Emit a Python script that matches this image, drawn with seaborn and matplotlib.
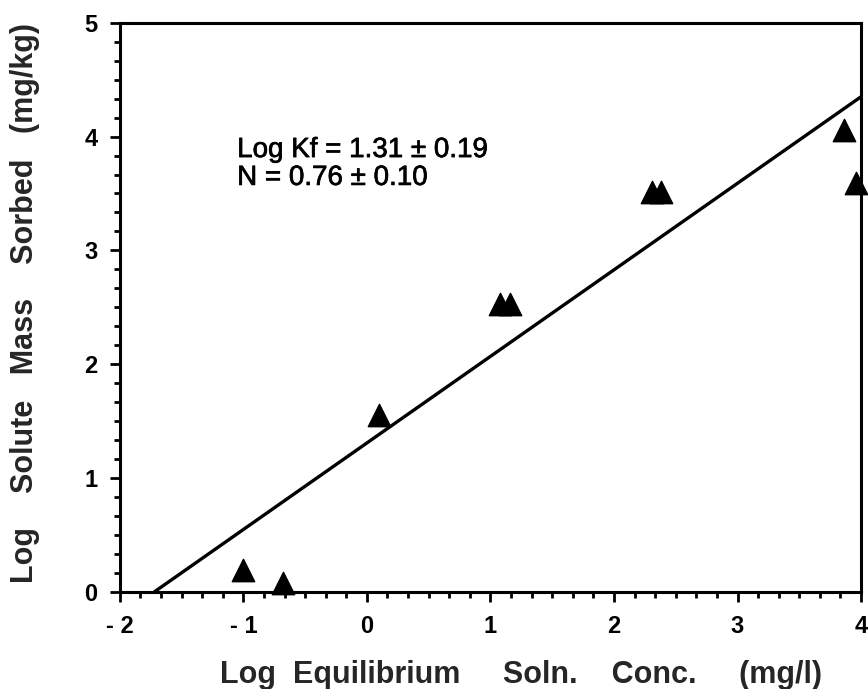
import matplotlib
matplotlib.use("Agg")
import matplotlib.pyplot as plt
from matplotlib.ticker import MultipleLocator
import matplotlib.patheffects as pe
import seaborn as sns
import pandas as pd

# Data
log_conc = [-1.00, -0.68, 0.10, 1.08, 1.16, 2.31, 2.38, 3.86, 3.96]
log_sorbed = [0.19, 0.08, 1.55, 2.53, 2.53, 3.51, 3.51, 4.06, 3.59]
fit_x = [-1.72, 4.0]
fit_y = [0.0, 4.35]
x_ticks = [-2, -1, 0, 1, 2, 3, 4]
x_tick_labels = ["- 2", "- 1", "0", "1", "2", "3", "4"]
y_ticks = [0, 1, 2, 3, 4, 5]
annotation_lines = ["Log Kf = 1.31 \u00b1 0.19", "N = 0.76 \u00b1 0.10"]

sns.set_theme(style="ticks")
plt.rcParams['font.family'] = ['Liberation Sans', 'DejaVu Sans']

fig = plt.figure(figsize=(8.68, 6.89), dpi=100)
ax = fig.add_axes([0.138, 0.141, 0.854, 0.826])

pts = pd.DataFrame({"x": log_conc, "y": log_sorbed})
fit = pd.DataFrame({"x": fit_x, "y": fit_y})

sns.lineplot(data=fit, x="x", y="y", ax=ax, color="black", linewidth=2.4)
sns.scatterplot(data=pts, x="x", y="y", ax=ax, marker="^", s=260,
                color="black", edgecolor="black", linewidth=1, zorder=5,
                clip_on=False)

ax.set_xlim(-2, 4)
ax.set_ylim(0, 5)
ax.set_xticks(x_ticks)
ax.set_yticks(y_ticks)
ax.set_xticklabels(x_tick_labels)
ax.xaxis.set_minor_locator(MultipleLocator(1/6))
ax.yaxis.set_minor_locator(MultipleLocator(1/6))

for s in ax.spines.values():
    s.set_visible(True)
    s.set_linewidth(2.2)
    s.set_color("black")

ax.tick_params(axis="both", which="major", direction="out", length=7, width=2,
               labelsize=17, colors="black")
ax.tick_params(axis="x", which="major", pad=10)
ax.tick_params(axis="y", which="major", pad=9)
ax.tick_params(axis="both", which="minor", direction="out", length=4, width=2,
               colors="black")
ax.tick_params(top=False, right=False, which="both")
for lab in ax.get_xticklabels() + ax.get_yticklabels():
    lab.set_fontweight("bold")

ax.set_xlabel("Log  Equilibrium     Soln.    Conc.     (mg/l)",
              fontsize=22, fontweight="bold", va="baseline", ha="left")
ax.xaxis.set_label_coords(0.135, -0.160)
ax.set_ylabel("Log    Solute   Mass    Sorbed   (mg/kg)",
              fontsize=22, fontweight="bold", va="baseline", ha="left")
ax.yaxis.set_label_coords(-0.117, 0.016)

for i, line in enumerate(annotation_lines):
    ax.text(-1.05, 3.82 - 0.245 * i, line, fontsize=20, color="black",
            va="baseline",
            path_effects=[pe.withStroke(linewidth=0.5, foreground="black")])

fig.savefig("out.png", dpi=100, facecolor="white")
